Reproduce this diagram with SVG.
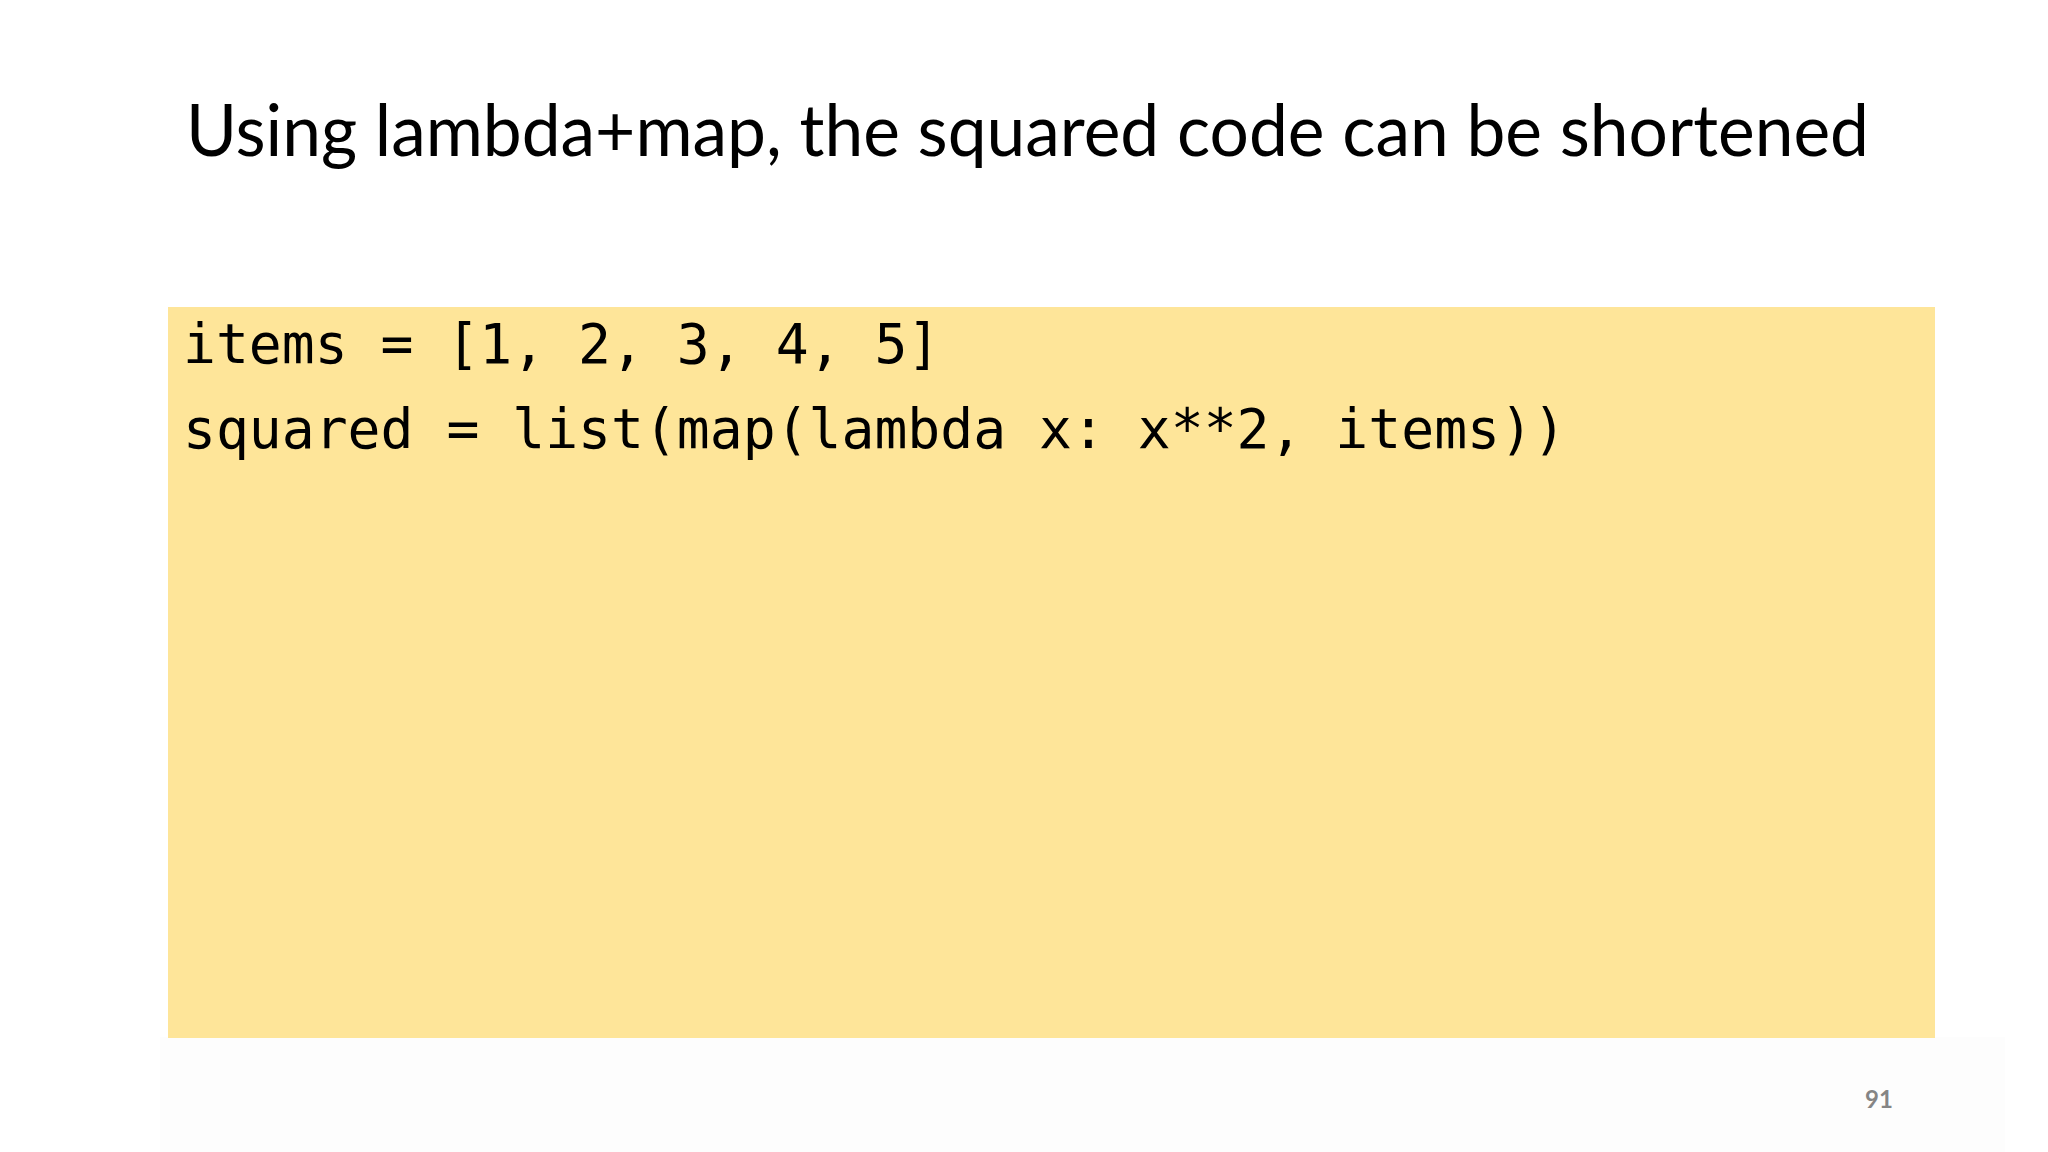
<svg xmlns="http://www.w3.org/2000/svg" width="2048" height="1152" viewBox="0 0 2048 1152">
  <style>
    .title { font-family: Lato, "Open Sans", "Liberation Sans", sans-serif; font-size: 72px; fill: #000000; }
    .code { font-family: "DejaVu Sans Mono", "Liberation Mono", monospace; font-size: 54.7px; fill: #000000; }
    .pnum { font-family: Lato, "Liberation Sans", sans-serif; font-size: 24px; font-weight: bold; fill: #858585; }
  </style>
  <rect x="0" y="0" width="2048" height="1152" fill="#ffffff"/>
  <rect x="160" y="1037" width="1845" height="115" fill="#fdfdfd"/>
  <g id="title">
    <text class="title" x="186" y="156" textLength="1683" lengthAdjust="spacingAndGlyphs">Using lambda+map, the squared code can be shortened</text>
  </g>
  <g id="code-block">
    <rect x="168" y="307" width="1767" height="731" fill="#fee599"/>
    <text class="code" x="183" y="363" xml:space="preserve">items = [1, 2, 3, 4, 5]</text>
    <text class="code" x="183" y="448" xml:space="preserve">squared = list(map(lambda x: x**2, items))</text>
  </g>
  <g id="page-number">
    <text class="pnum" x="1865" y="1108">91</text>
  </g>
</svg>
